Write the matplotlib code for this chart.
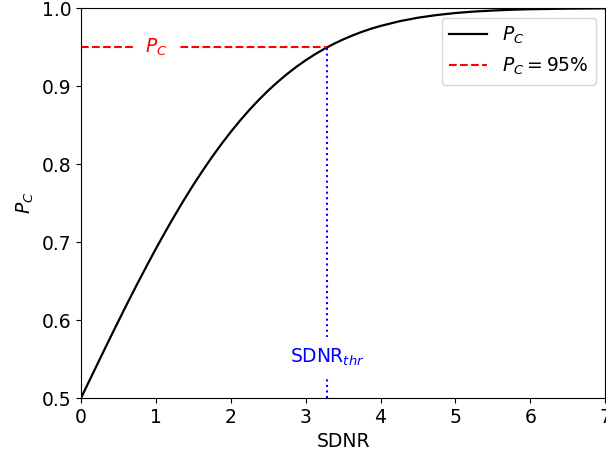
import matplotlib
matplotlib.use("Agg")
import matplotlib.pyplot as plt

# Values
sdnr = [0.0, 0.125, 0.25, 0.375, 0.5, 0.625, 0.75, 0.875, 1.0, 1.125, 1.25,
        1.375, 1.5, 1.625, 1.75, 1.875, 2.0, 2.125, 2.25, 2.375, 2.5, 2.625,
        2.75, 2.875, 3.0, 3.125, 3.25, 3.375, 3.5, 3.625, 3.75, 3.875, 4.0,
        4.25, 4.5, 4.75, 5.0, 5.25, 5.5, 5.75, 6.0, 6.5, 7.0]
pc = [0.5, 0.5249, 0.5497, 0.5744, 0.5987, 0.6227, 0.6462, 0.6691, 0.6915,
      0.7131, 0.7340, 0.7541, 0.7734, 0.7917, 0.8092, 0.8257, 0.8413, 0.8560,
      0.8697, 0.8825, 0.8944, 0.9053, 0.9154, 0.9247, 0.9332, 0.9409, 0.9479,
      0.9542, 0.9599, 0.9650, 0.9696, 0.9737, 0.9772, 0.9832, 0.9878, 0.9912,
      0.9938, 0.9957, 0.9970, 0.9980, 0.99865, 0.99942, 0.99977]
pc_target = 0.95
sdnr_thr = 3.29

FS = 13.5

fig = plt.figure(figsize=(6.06, 4.57), dpi=100)
ax = fig.add_axes([0.1337, 0.1291, 0.865, 0.853])

ax.plot(sdnr, pc, color="black", lw=1.6, label=r"$P_C$")
ax.plot([0, sdnr_thr], [pc_target, pc_target], color="red", linestyle="--",
        lw=1.5, label=r"$P_C = 95\%$")
ax.plot([sdnr_thr, sdnr_thr], [0.5, pc_target], color="blue", linestyle=":",
        lw=1.5)

ax.text(1.0, pc_target, r"$P_C$", color="red", fontsize=FS, ha="center",
        va="center", bbox=dict(facecolor="white", edgecolor="none", pad=7))
ax.text(sdnr_thr, 0.552, r"SDNR$_{thr}$", color="blue", fontsize=FS,
        ha="center", va="center",
        bbox=dict(facecolor="white", edgecolor="none", pad=7))

ax.set_xlim(0, 7)
ax.set_ylim(0.5, 1.0)
ax.set_xticks([0, 1, 2, 3, 4, 5, 6, 7])
ax.set_yticks([0.5, 0.6, 0.7, 0.8, 0.9, 1.0])
ax.tick_params(labelsize=FS)
ax.set_xlabel("SDNR", fontsize=FS)
ax.set_ylabel(r"$P_C$", fontsize=FS)
ax.legend(loc="upper right", fontsize=FS)

fig.savefig("out.png", dpi=100)
